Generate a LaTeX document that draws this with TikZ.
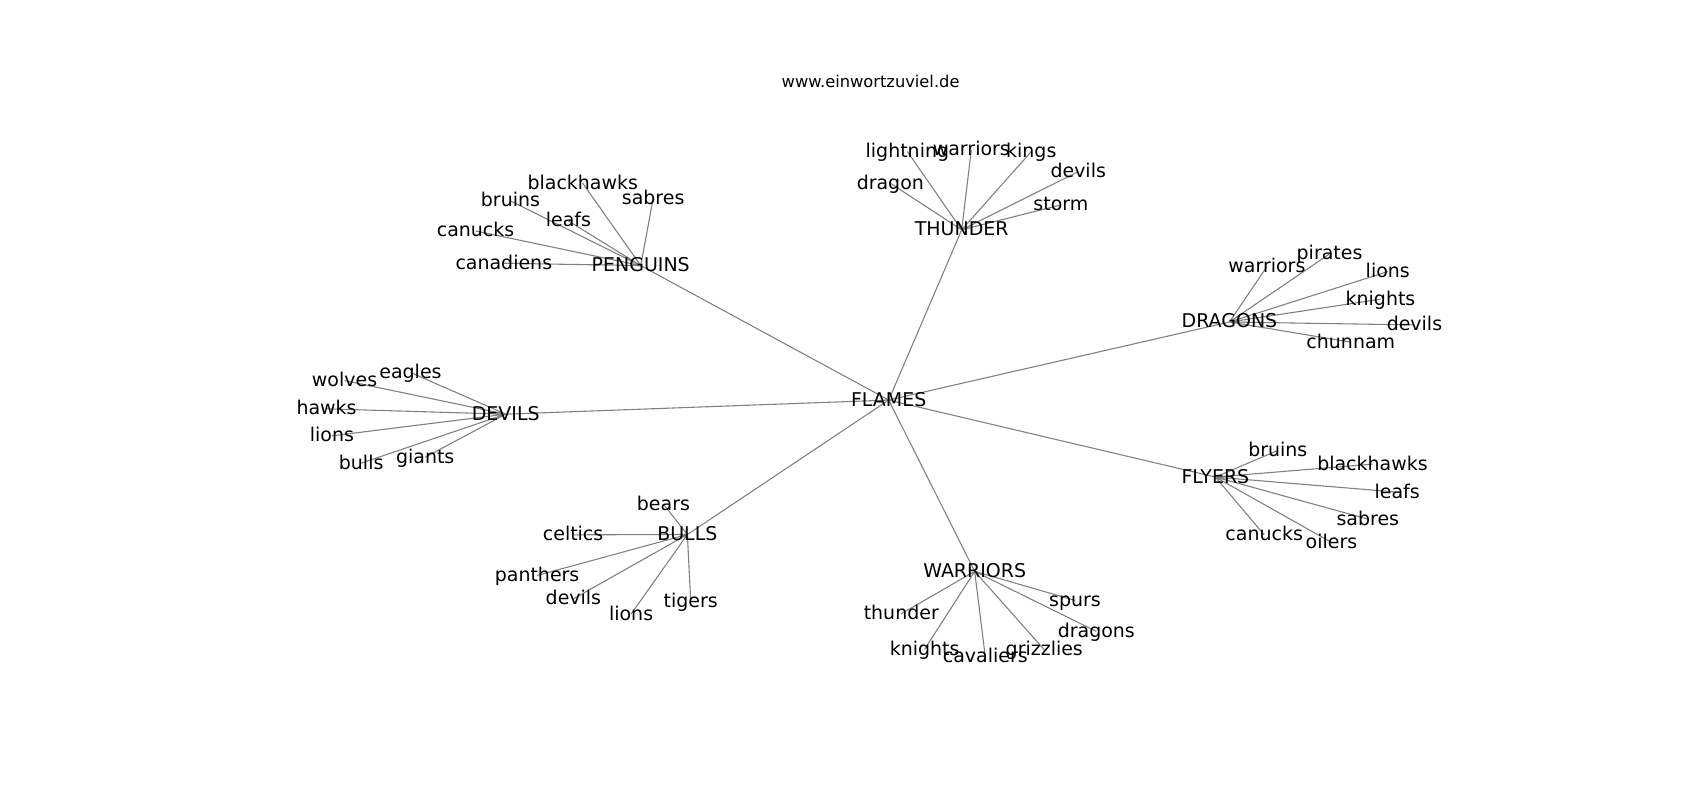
\documentclass[tikz,border=0pt]{standalone}
\usepackage{fontspec}
\setmainfont{DejaVu Sans}
\usetikzlibrary{backgrounds}

\tikzset{
  lbl/.style={inner sep=0pt, text height=1.1em, text depth=0pt,
    font=\fontsize{17.5}{21}\selectfont},
  edge/.style={draw=gray, line width=1pt}
}

\begin{document}
\begin{tikzpicture}[x=1pt,y=-1pt]
\useasboundingbox (0,0) rectangle (1568,738);

\node [inner sep=0pt, text height=1.15em, font=\fontsize{15}{18}\selectfont] (title) at (803,75.5) {www.einwortzuviel.de};

% centre and the seven teams round it
\node [lbl] (flames) at (819.7,369) {FLAMES};
\node [lbl] (penguins) at (591,245) {PENGUINS};
\node [lbl] (thunder) at (887,212) {THUNDER};
\node [lbl] (dragons) at (1134,297) {DRAGONS};
\node [lbl] (devils) at (466.5,382) {DEVILS};
\node [lbl] (flyers) at (1121,440) {FLYERS};
\node [lbl] (bulls) at (634,493) {BULLS};
\node [lbl] (warriors) at (899,527) {WARRIORS};

% PENGUINS
\node [lbl] (pe-blackhawks) at (537.5,169) {blackhawks};
\node [lbl] (pe-bruins) at (470.8,185.3) {bruins};
\node [lbl] (pe-sabres) at (602.4,183.2) {sabres};
\node [lbl] (pe-leafs) at (524.3,203.8) {leafs};
\node [lbl] (pe-canucks) at (438.6,213) {canucks};
\node [lbl] (pe-canadiens) at (464.7,242.8) {canadiens};

% THUNDER
\node [lbl] (th-lightning) at (836.9,139.8) {lightning};
\node [lbl] (th-warriors) at (895.9,138.3) {warriors};
\node [lbl] (th-kings) at (951.2,139.8) {kings};
\node [lbl] (th-devils) at (994.5,158.3) {devils};
\node [lbl] (th-dragon) at (821.2,169) {dragon};
\node [lbl] (th-storm) at (978.5,189) {storm};

% DRAGONS
\node [lbl] (dr-warriors) at (1168.5,245.9) {warriors};
\node [lbl] (dr-pirates) at (1226.3,234.2) {pirates};
\node [lbl] (dr-lions) at (1280,250.5) {lions};
\node [lbl] (dr-knights) at (1273.3,276) {knights};
\node [lbl] (dr-devils) at (1304.6,299.7) {devils};
\node [lbl] (dr-chunnam) at (1245.9,315.6) {chunnam};

% DEVILS
\node [lbl] (de-eagles) at (378.6,343.6) {eagles};
\node [lbl] (de-wolves) at (317.8,351) {wolves};
\node [lbl] (de-hawks) at (301.2,377.1) {hawks};
\node [lbl] (de-lions) at (306.1,402) {lions};
\node [lbl] (de-bulls) at (333.1,427.2) {bulls};
\node [lbl] (de-giants) at (392.2,421.7) {giants};

% FLYERS
\node [lbl] (fl-bruins) at (1178.6,415.5) {bruins};
\node [lbl] (fl-blackhawks) at (1265.9,428.1) {blackhawks};
\node [lbl] (fl-leafs) at (1288.7,453.9) {leafs};
\node [lbl] (fl-sabres) at (1261.6,478.8) {sabres};
\node [lbl] (fl-canucks) at (1166,493.3) {canucks};
\node [lbl] (fl-oilers) at (1228.1,500.3) {oilers};

% BULLS
\node [lbl] (bu-bears) at (611.9,465) {bears};
\node [lbl] (bu-celtics) at (528.6,493.3) {celtics};
\node [lbl] (bu-panthers) at (495.4,530.8) {panthers};
\node [lbl] (bu-devils) at (528.9,552.3) {devils};
\node [lbl] (bu-lions) at (582.1,566.4) {lions};
\node [lbl] (bu-tigers) at (637.1,554.8) {tigers};

% WARRIORS
\node [lbl] (wa-spurs) at (991.5,553.8) {spurs};
\node [lbl] (wa-thunder) at (831.3,566.1) {thunder};
\node [lbl] (wa-dragons) at (1011.2,582.4) {dragons};
\node [lbl] (wa-knights) at (852.9,598.7) {knights};
\node [lbl] (wa-cavaliers) at (908.8,606) {cavaliers};
\node [lbl] (wa-grizzlies) at (963.2,599.3) {grizzlies};

\begin{scope}[on background layer]
\draw[edge] (flames.center) -- (penguins.center)
  (flames.center) -- (thunder.center)
  (flames.center) -- (dragons.center)
  (flames.center) -- (devils.center)
  (flames.center) -- (flyers.center)
  (flames.center) -- (bulls.center)
  (flames.center) -- (warriors.center);

\draw[edge] (penguins.center) -- (pe-blackhawks.center)
  (penguins.center) -- (pe-bruins.center)
  (penguins.center) -- (pe-sabres.center)
  (penguins.center) -- (pe-leafs.center)
  (penguins.center) -- (pe-canucks.center)
  (penguins.center) -- (pe-canadiens.center);

\draw[edge] (thunder.center) -- (th-lightning.center)
  (thunder.center) -- (th-warriors.center)
  (thunder.center) -- (th-kings.center)
  (thunder.center) -- (th-devils.center)
  (thunder.center) -- (th-dragon.center)
  (thunder.center) -- (th-storm.center);

\draw[edge] (dragons.center) -- (dr-warriors.center)
  (dragons.center) -- (dr-pirates.center)
  (dragons.center) -- (dr-lions.center)
  (dragons.center) -- (dr-knights.center)
  (dragons.center) -- (dr-devils.center)
  (dragons.center) -- (dr-chunnam.center);

\draw[edge] (devils.center) -- (de-eagles.center)
  (devils.center) -- (de-wolves.center)
  (devils.center) -- (de-hawks.center)
  (devils.center) -- (de-lions.center)
  (devils.center) -- (de-bulls.center)
  (devils.center) -- (de-giants.center);

\draw[edge] (flyers.center) -- (fl-bruins.center)
  (flyers.center) -- (fl-blackhawks.center)
  (flyers.center) -- (fl-leafs.center)
  (flyers.center) -- (fl-sabres.center)
  (flyers.center) -- (fl-canucks.center)
  (flyers.center) -- (fl-oilers.center);

\draw[edge] (bulls.center) -- (bu-bears.center)
  (bulls.center) -- (bu-celtics.center)
  (bulls.center) -- (bu-panthers.center)
  (bulls.center) -- (bu-devils.center)
  (bulls.center) -- (bu-lions.center)
  (bulls.center) -- (bu-tigers.center);

\draw[edge] (warriors.center) -- (wa-spurs.center)
  (warriors.center) -- (wa-thunder.center)
  (warriors.center) -- (wa-dragons.center)
  (warriors.center) -- (wa-knights.center)
  (warriors.center) -- (wa-cavaliers.center)
  (warriors.center) -- (wa-grizzlies.center);
\end{scope}

\end{tikzpicture}
\end{document}
